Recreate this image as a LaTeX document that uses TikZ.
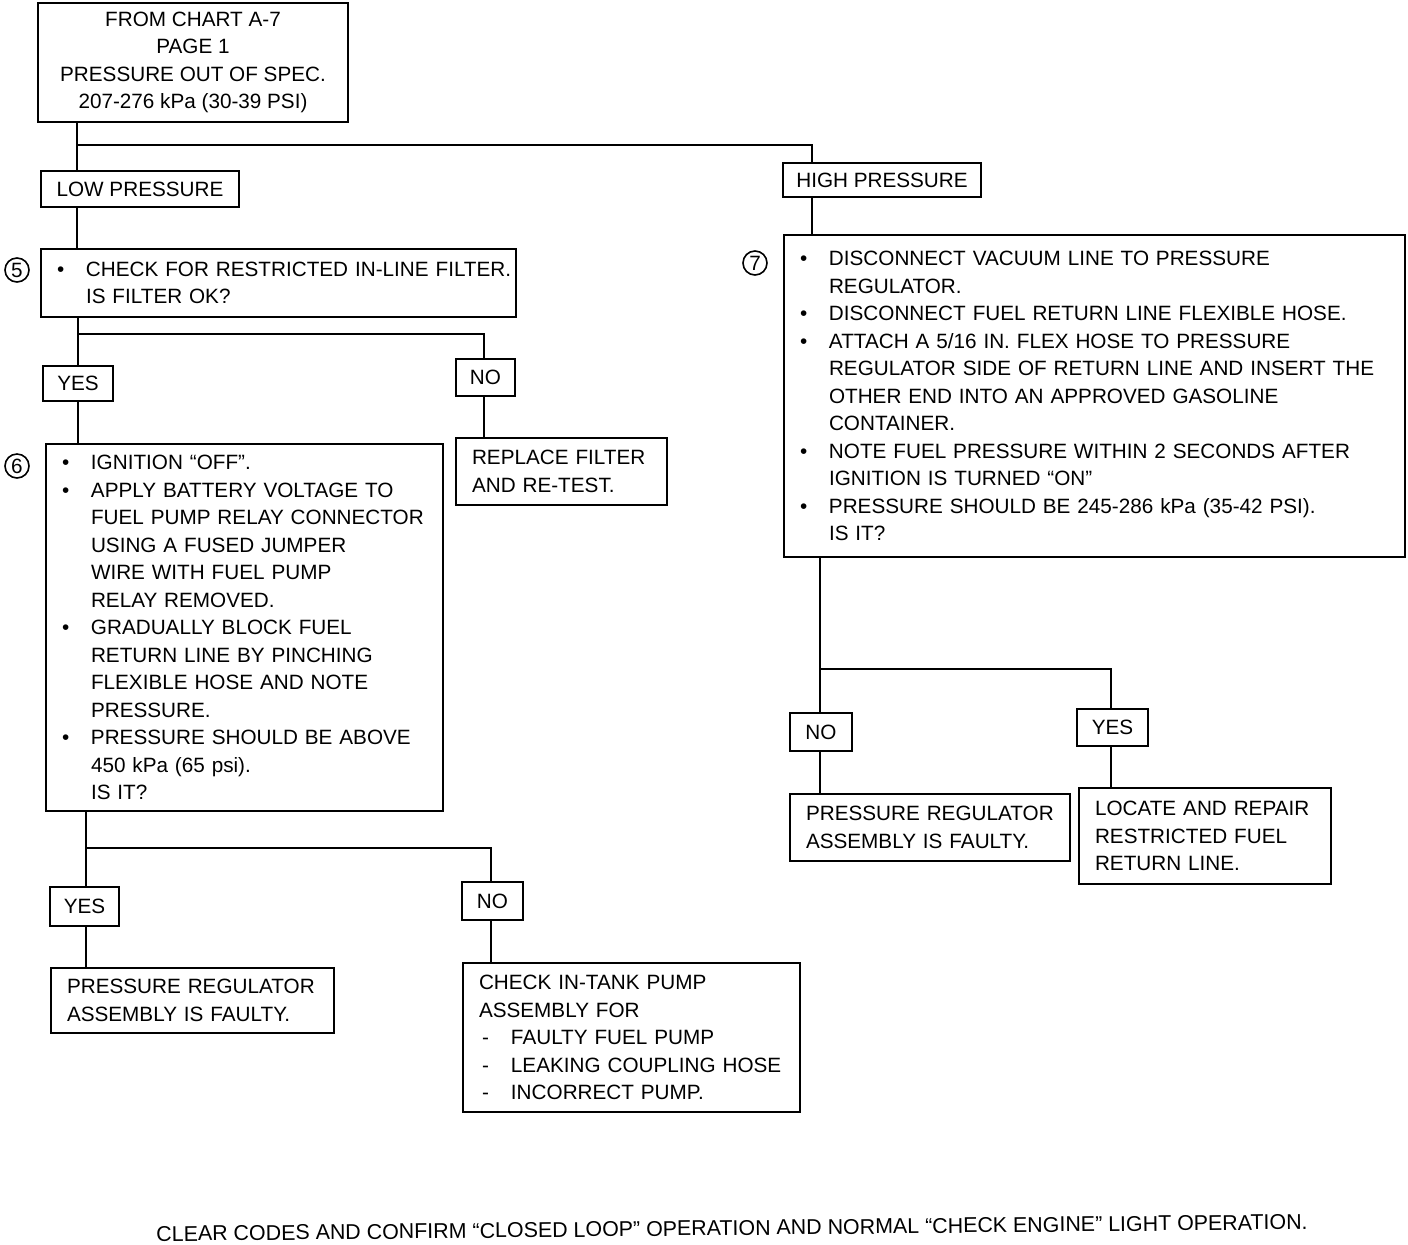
\documentclass[tikz,border=0pt]{standalone}
\usepackage{fontspec}
\setmainfont{Liberation Sans}
\newcommand{\myfs}{\fontsize{10.35}{13.75}\selectfont}
\newcommand{\bi}[1]{\makebox[14.5pt][l]{\textbullet}\mbox{#1}}
\newcommand{\ci}[1]{\hspace*{14.5pt}\mbox{#1}}
\newcommand{\di}[1]{\makebox[16pt][l]{\hspace*{1.5pt}-}\mbox{#1}}
\begin{document}
\begin{tikzpicture}[x=0.5pt,y=-0.5pt,
  box/.style={draw, line width=1pt, inner xsep=8pt, inner ysep=0pt, anchor=north west, align=left, font=\myfs},
  lbl/.style={draw, line width=1pt, inner sep=0pt, anchor=north west, align=center, font=\myfs},
  conn/.style={line width=0.8pt},
  num/.style={circle, draw, line width=0.8pt, inner sep=0pt, minimum size=12pt, font=\myfs}]
\useasboundingbox (0,0) rectangle (1408,1244);

% boxes
\node[lbl, minimum width=155pt, minimum height=59.5pt] (top) at (37,2)
  {FROM CHART A-7\\PAGE 1\\PRESSURE OUT OF SPEC.\\207-276 kPa (30-39 PSI)};
\node[lbl, minimum width=99pt, minimum height=18pt] (low) at (40,170) {LOW PRESSURE};
\node[lbl, minimum width=99pt, minimum height=17pt] (high) at (782,162) {HIGH PRESSURE};

\node[box, text width=221.5pt, minimum height=34pt] (b5) at (40,248)
  {\bi{CHECK FOR RESTRICTED IN-LINE FILTER.}\\\ci{IS FILTER OK?}};
\node[num] (c5) at (17,270) {5};

\node[lbl, minimum width=35pt, minimum height=17.5pt] (yes1) at (42,365) {YES};
\node[lbl, minimum width=29.5pt, minimum height=18.5pt] (no1) at (455,358) {NO};

\node[box, text width=182.5pt, minimum height=183.5pt] (b6) at (45,443)
  {\bi{IGNITION “OFF”.}\\
   \bi{APPLY BATTERY VOLTAGE TO}\\
   \ci{FUEL PUMP RELAY CONNECTOR}\\
   \ci{USING A FUSED JUMPER}\\
   \ci{WIRE WITH FUEL PUMP}\\
   \ci{RELAY REMOVED.}\\
   \bi{GRADUALLY BLOCK FUEL}\\
   \ci{RETURN LINE BY PINCHING}\\
   \ci{FLEXIBLE HOSE AND NOTE}\\
   \ci{PRESSURE.}\\
   \bi{PRESSURE SHOULD BE ABOVE}\\
   \ci{450 kPa (65 psi).}\\
   \ci{IS IT?}};
\node[num] (c6) at (17,466) {6};

\node[box, text width=89.5pt, minimum height=33.5pt] (rep) at (455,437)
  {\mbox{REPLACE FILTER}\\\mbox{AND RE-TEST.}};

\node[lbl, minimum width=34.5pt, minimum height=19.5pt] (yes2) at (49,886) {YES};
\node[lbl, minimum width=30.5pt, minimum height=19pt] (no2) at (461,881) {NO};

\node[box, text width=125.5pt, minimum height=32.5pt] (prf1) at (50,967)
  {\mbox{PRESSURE REGULATOR}\\\mbox{ASSEMBLY IS FAULTY.}};

\node[box, text width=152.5pt, minimum height=74.5pt] (chk) at (462,962)
  {\mbox{CHECK IN-TANK PUMP}\\
   \mbox{ASSEMBLY FOR}\\
   \di{FAULTY FUEL PUMP}\\
   \di{LEAKING COUPLING HOSE}\\
   \di{INCORRECT PUMP.}};

\node[box, text width=294.5pt, minimum height=161pt] (b7) at (783,234)
  {\bi{DISCONNECT VACUUM LINE TO PRESSURE}\\
   \ci{REGULATOR.}\\
   \bi{DISCONNECT FUEL RETURN LINE FLEXIBLE HOSE.}\\
   \bi{ATTACH A 5/16 IN. FLEX HOSE TO PRESSURE}\\
   \ci{REGULATOR SIDE OF RETURN LINE AND INSERT THE}\\
   \ci{OTHER END INTO AN APPROVED GASOLINE}\\
   \ci{CONTAINER.}\\
   \bi{NOTE FUEL PRESSURE WITHIN 2 SECONDS AFTER}\\
   \ci{IGNITION IS TURNED “ON”}\\
   \bi{PRESSURE SHOULD BE 245-286 kPa (35-42 PSI).}\\
   \ci{IS IT?}};
\node[num] (c7) at (755,263) {7};

\node[lbl, minimum width=31pt, minimum height=19pt] (no3) at (789,712) {NO};
\node[lbl, minimum width=35.5pt, minimum height=18.5pt] (yes3) at (1076,708) {YES};

\node[box, text width=124pt, minimum height=33.5pt] (prf2) at (789,793)
  {\mbox{PRESSURE REGULATOR}\\\mbox{ASSEMBLY IS FAULTY.}};
\node[box, text width=110pt, minimum height=48pt] (loc) at (1078,787)
  {\mbox{LOCATE AND REPAIR}\\\mbox{RESTRICTED FUEL}\\\mbox{RETURN LINE.}};

\node[font=\fontsize{10.7}{13}\selectfont, rotate=0.6] (foot) at (732,1228)
  {CLEAR CODES AND CONFIRM “CLOSED LOOP” OPERATION AND NORMAL “CHECK ENGINE” LIGHT OPERATION.};

% connector x positions and junctions
\coordinate (xa) at (77,0);
\coordinate (xh) at (812,0);
\coordinate (xb) at (78,0);
\coordinate (xc) at (484,0);
\coordinate (xd) at (86,0);
\coordinate (xe) at (491,0);
\coordinate (xf) at (820,0);
\coordinate (xg) at (1111,0);
\coordinate (j1) at (77,145);
\coordinate (j2) at (78,334);
\coordinate (j3) at (86,848);
\coordinate (j4) at (820,669);

\draw[conn] (top.south -| xa) -- (low.north -| xa);
\draw[conn] (j1) -| (high.north -| xh);
\draw[conn] (low.south -| xa) -- (b5.north -| xa);
\draw[conn] (b5.south -| xb) -- (yes1.north -| xb);
\draw[conn] (j2) -| (no1.north -| xc);
\draw[conn] (yes1.south -| xb) -- (b6.north -| xb);
\draw[conn] (no1.south -| xc) -- (rep.north -| xc);
\draw[conn] (b6.south -| xd) -- (yes2.north -| xd);
\draw[conn] (j3) -| (no2.north -| xe);
\draw[conn] (yes2.south -| xd) -- (prf1.north -| xd);
\draw[conn] (no2.south -| xe) -- (chk.north -| xe);
\draw[conn] (high.south -| xh) -- (b7.north -| xh);
\draw[conn] (b7.south -| xf) -- (no3.north -| xf);
\draw[conn] (j4) -| (yes3.north -| xg);
\draw[conn] (no3.south -| xf) -- (prf2.north -| xf);
\draw[conn] (yes3.south -| xg) -- (loc.north -| xg);
\end{tikzpicture}
\end{document}
